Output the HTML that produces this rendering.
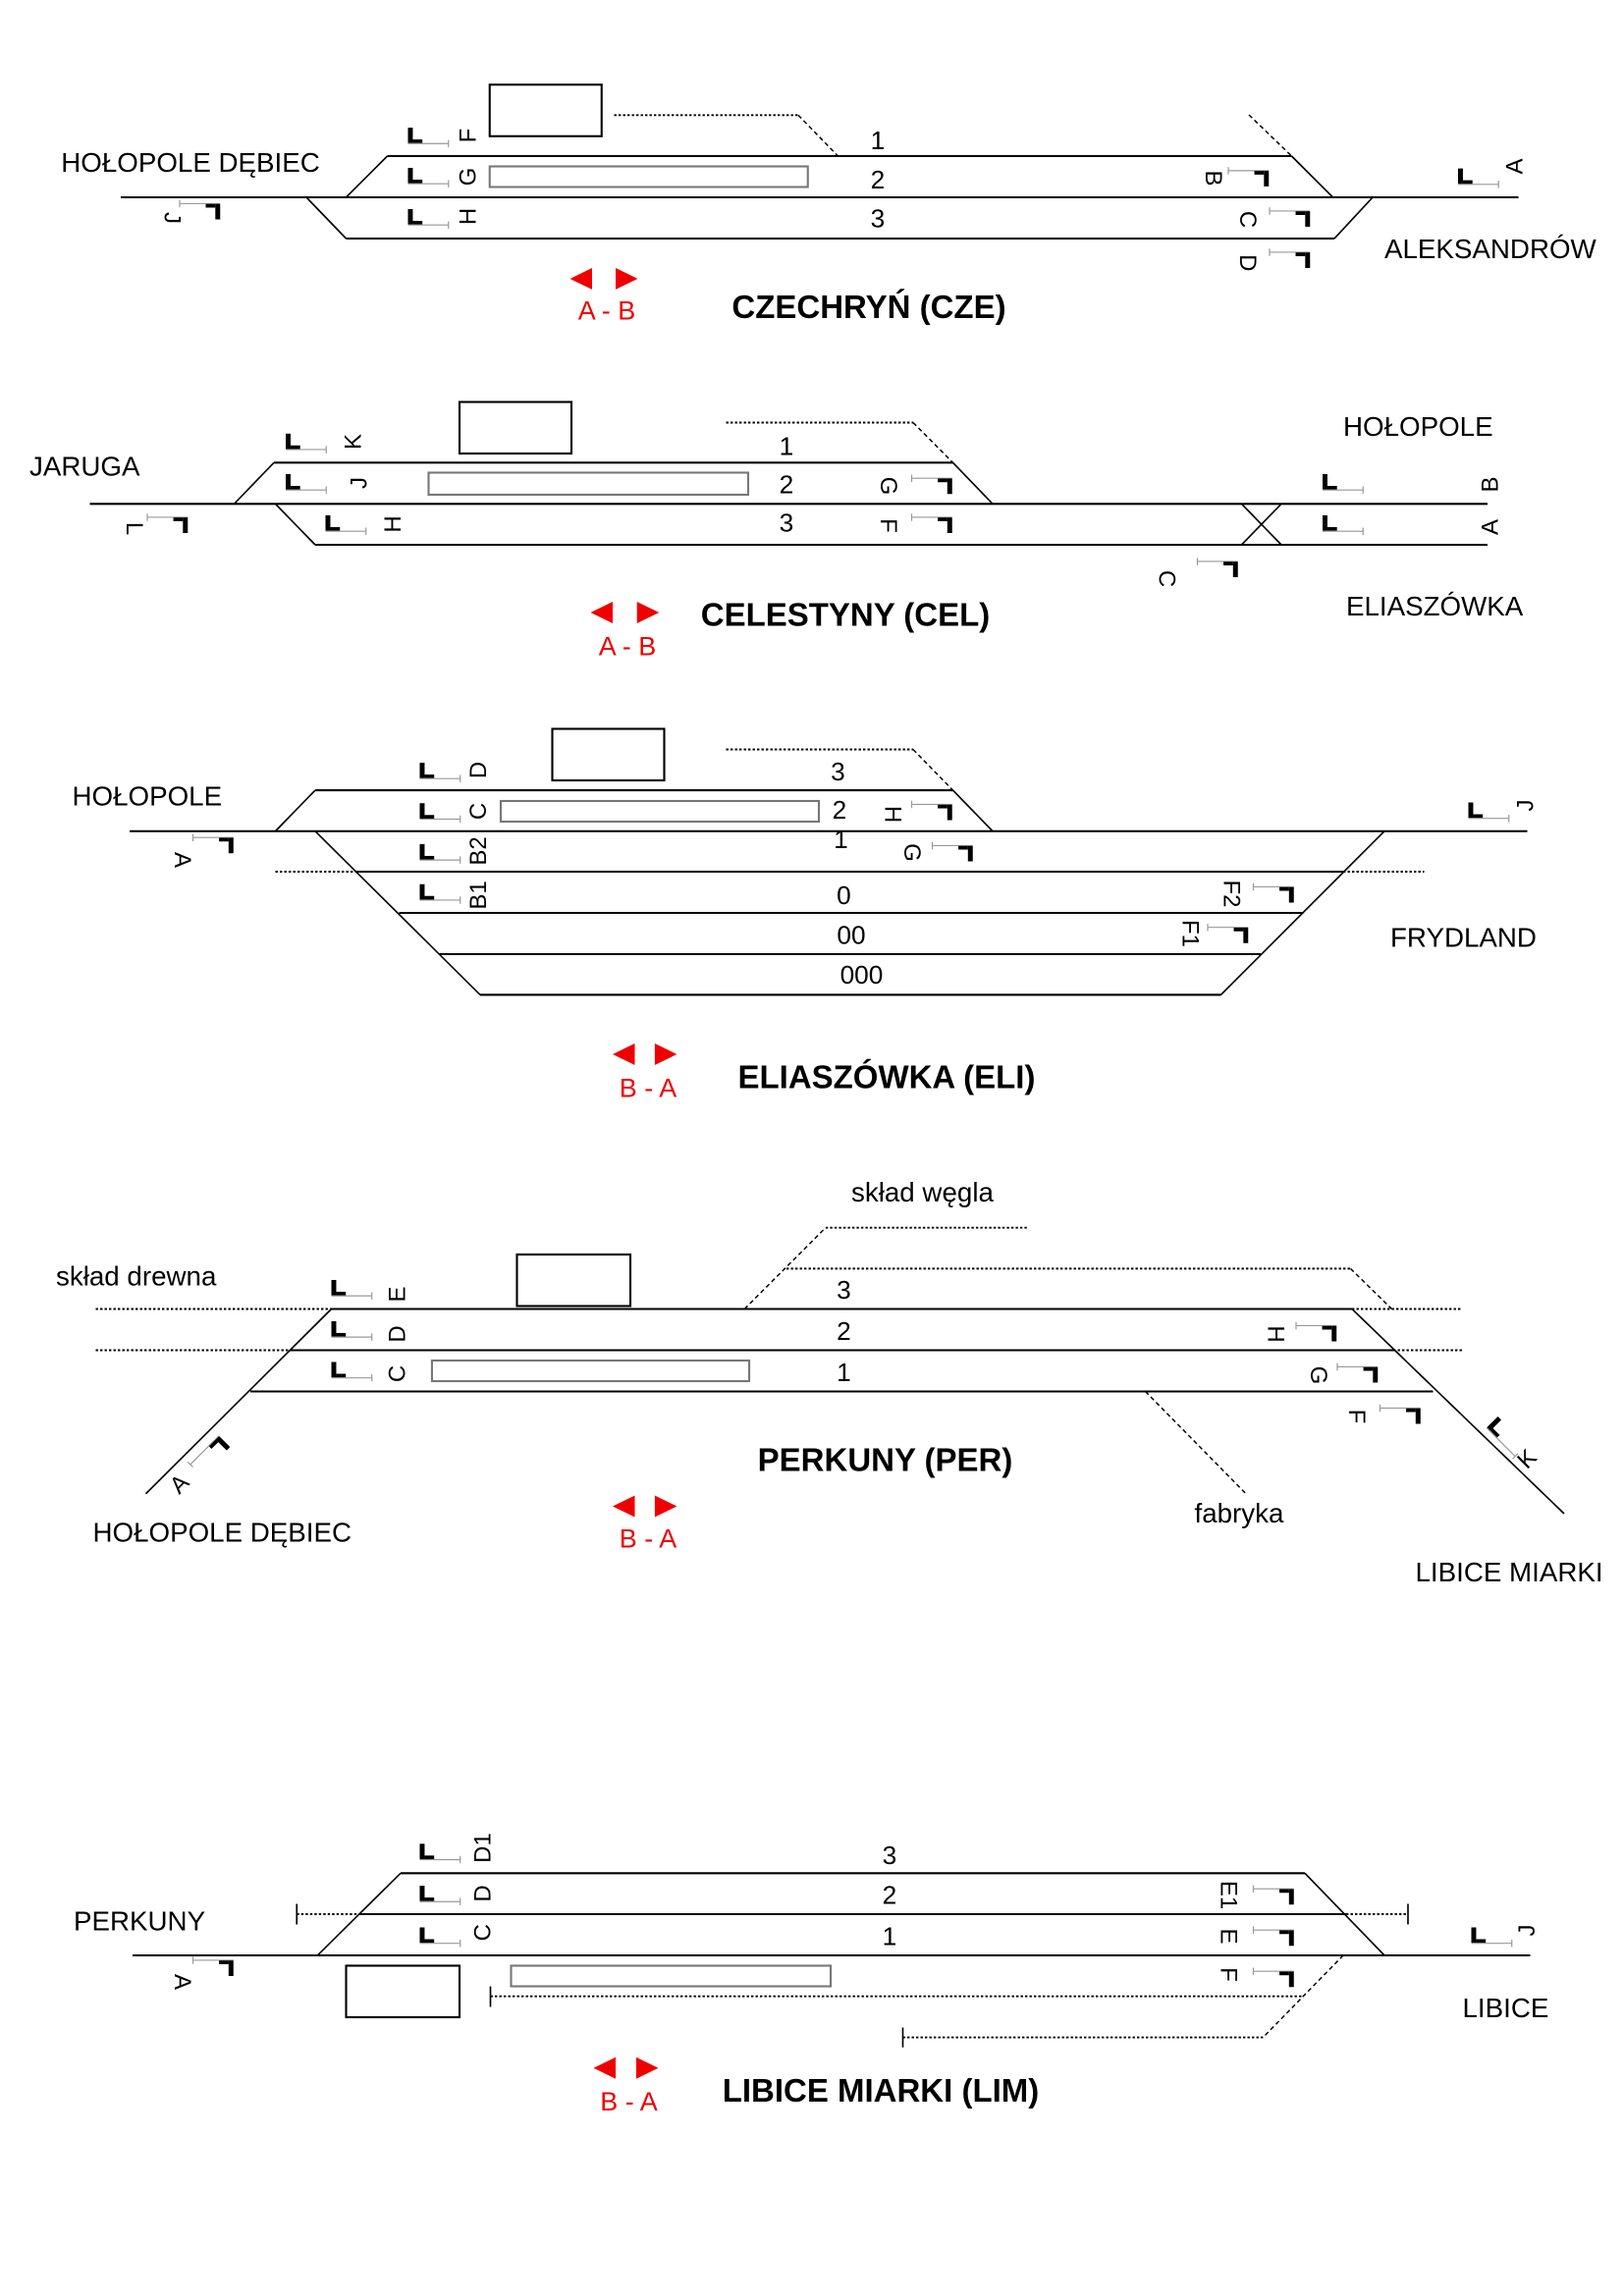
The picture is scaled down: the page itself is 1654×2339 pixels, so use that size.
<!DOCTYPE html>
<html><head><meta charset="utf-8"><style>
html,body{margin:0;padding:0;background:#fff}
svg{display:block}
text{font-family:"Liberation Sans",Arial,sans-serif;fill:#000}
.n{font-size:17.5px;text-anchor:middle}
.l{font-size:18.5px}
.s{font-size:16px;text-anchor:middle;dominant-baseline:central}
.t{font-size:22px;font-weight:bold;text-anchor:middle}
.r{font-size:18px;text-anchor:middle;fill:#e00}
.tr{stroke:#000;stroke-width:1.4;fill:none}
.dg{stroke:#000;stroke-width:1.1;fill:none}
.dt{stroke:#000;stroke-width:1.3;fill:none;stroke-dasharray:1.6 1.4}
.ds{stroke:#000;stroke-width:1;fill:none;stroke-dasharray:3 2.2}
.bd{stroke:#000;stroke-width:1.4;fill:none}
.pf{stroke:#777;stroke-width:1.4;fill:none}
</style></head><body>
<svg width="1654" height="2339" viewBox="0 0 1102.67 1559.33" xmlns="http://www.w3.org/2000/svg">
<defs>
<g id="L"><rect x="0" y="0" width="3.3" height="10.5" fill="#000"/><rect x="3.3" y="8" width="6.5" height="2.5" fill="#000"/><path d="M0 10.8H27.5M27.5 8.3V13.3" stroke="#999" stroke-width="0.8" fill="none"/></g>
<g id="R"><path d="M0 0.3H27.5M0 -2.2V2.8" stroke="#999" stroke-width="0.8" fill="none"/><rect x="17.7" y="0.5" width="6.5" height="2.5" fill="#000"/><rect x="24.2" y="0.5" width="3.3" height="10.5" fill="#000"/></g>
</defs>

<!-- ===== STATION 1: CZECHRYŃ ===== -->
<path class="tr" d="M82 134H1031"/>
<path class="tr" d="M263 106H877"/>
<path class="tr" d="M235 162H906"/>
<path class="dg" d="M235 134L263 106M877 106L905 134M208 134L235 162M906 162L932 134"/>
<rect class="bd" x="332.5" y="57.5" width="76" height="35"/>
<rect class="pf" x="332.5" y="113" width="216" height="14"/>
<path class="dt" d="M417 78.2H542"/>
<path class="ds" d="M542 78.2L569 106M848 78L877 106"/>
<text class="n" x="596" y="101.5">1</text>
<text class="n" x="596" y="128">2</text>
<text class="n" x="596" y="154.5">3</text>
<use href="#L" x="277" y="86.7"/><use href="#L" x="277" y="114"/><use href="#L" x="277" y="142"/>
<text class="s" transform="translate(318,92) rotate(-90)">F</text>
<text class="s" transform="translate(318,120) rotate(-90)">G</text>
<text class="s" transform="translate(318,147) rotate(-90)">H</text>
<use href="#R" x="834" y="115.6"/><use href="#R" x="862" y="143"/><use href="#R" x="862" y="171"/><use href="#R" x="122" y="138"/>
<text class="s" transform="translate(823.7,121) rotate(90)">B</text>
<text class="s" transform="translate(847,149) rotate(90)">C</text>
<text class="s" transform="translate(847,178.5) rotate(90)">D</text>
<text class="s" transform="translate(116.7,148) rotate(90)">J</text>
<use href="#L" x="990" y="114.4"/>
<text class="s" transform="translate(1028.7,113) rotate(-90)">A</text>
<text class="l" x="41.5" y="116.7">HOŁOPOLE DĘBIEC</text>
<text class="l" x="940" y="175.5">ALEKSANDRÓW</text>
<polygon fill="#e00" points="387,189.3 402,182 402,196.6"/><polygon fill="#e00" points="433,189.3 418,182 418,196.6"/>
<text class="r" x="412" y="217">A - B</text>
<text class="t" x="590" y="216">CZECHRYŃ (CZE)</text>

<!-- ===== STATION 2: CELESTYNY ===== -->
<path class="tr" d="M61 342.2H1010"/>
<path class="tr" d="M186 314.2H647"/>
<path class="tr" d="M214 370H1010"/>
<path class="dg" d="M159 342.2L186 314.2M647 314.2L674 342.2M187 342.2L214 370M843 370L870 342.2M843 342.2L870 370"/>
<rect class="bd" x="312" y="273" width="76" height="35"/>
<rect class="pf" x="291" y="321" width="217" height="15"/>
<path class="dt" d="M493 287H620"/>
<path class="ds" d="M620 287L647 314.2"/>
<text class="n" x="534" y="309">1</text>
<text class="n" x="534" y="335">2</text>
<text class="n" x="534" y="361">3</text>
<use href="#L" x="194" y="294.5"/><use href="#L" x="194" y="322"/><use href="#L" x="221" y="350"/>
<text class="s" transform="translate(240,300) rotate(-90)">K</text>
<text class="s" transform="translate(244,328) rotate(-90)">J</text>
<text class="s" transform="translate(267,356) rotate(-90)">H</text>
<use href="#R" x="100" y="351"/>
<text class="s" transform="translate(91,359) rotate(90)">L</text>
<use href="#R" x="619" y="324.5"/><use href="#R" x="619" y="351"/><use href="#R" x="813" y="381"/>
<text class="s" transform="translate(603,330) rotate(90)">G</text>
<text class="s" transform="translate(603,357) rotate(90)">F</text>
<text class="s" transform="translate(792,393) rotate(90)">C</text>
<use href="#L" x="898" y="322"/><use href="#L" x="898" y="350"/>
<text class="s" transform="translate(1012,329) rotate(-90)">B</text>
<text class="s" transform="translate(1012,358) rotate(-90)">A</text>
<text class="l" x="20" y="323">JARUGA</text>
<text class="l" x="912" y="296">HOŁOPOLE</text>
<text class="l" x="914" y="418">ELIASZÓWKA</text>
<polygon fill="#e00" points="401,416 416,408.7 416,423.3"/><polygon fill="#e00" points="447.5,416 432.5,408.7 432.5,423.3"/>
<text class="r" x="426" y="445">A - B</text>
<text class="t" x="574" y="425">CELESTYNY (CEL)</text>

<!-- ===== STATION 3: ELIASZÓWKA ===== -->
<path class="tr" d="M88 564.5H1037"/>
<path class="tr" d="M214 536.7H647"/>
<path class="tr" d="M242 592H912M271 620H885M298 648H856M326 675.6H829"/>
<path class="dg" d="M187 564.5L214 536.7M647 536.7L674 564.5M214 564.5L326 675.6M940 564.5L829 675.6"/>
<path class="dt" d="M187 592H242M912 592H967"/>
<rect class="bd" x="375" y="495" width="76" height="35"/>
<rect class="pf" x="340" y="544" width="216" height="14"/>
<path class="dt" d="M493 509H620"/>
<path class="ds" d="M620 509L647 536.7"/>
<text class="n" x="569" y="530">3</text>
<text class="n" x="570" y="556">2</text>
<text class="n" x="571" y="576">1</text>
<text class="n" x="573" y="614">0</text>
<text class="n" x="578" y="641">00</text>
<text class="n" x="585" y="668">000</text>
<use href="#L" x="285" y="518"/><use href="#L" x="285" y="545.5"/><use href="#L" x="285" y="573.3"/><use href="#L" x="285" y="600.5"/>
<text class="s" transform="translate(325,523) rotate(-90)">D</text>
<text class="s" transform="translate(325,551) rotate(-90)">C</text>
<text class="s" transform="translate(325,578) rotate(-90)">B2</text>
<text class="s" transform="translate(325,608) rotate(-90)">B1</text>
<use href="#R" x="619" y="546"/><use href="#R" x="633" y="574"/><use href="#R" x="851" y="602"/><use href="#R" x="820" y="629.5"/><use href="#R" x="131" y="568.5"/>
<text class="s" transform="translate(606,553) rotate(90)">H</text>
<text class="s" transform="translate(619,579) rotate(90)">G</text>
<text class="s" transform="translate(836,607) rotate(90)">F2</text>
<text class="s" transform="translate(808,634) rotate(90)">F1</text>
<text class="s" transform="translate(123.7,584) rotate(90)">A</text>
<use href="#L" x="997" y="545"/>
<text class="s" transform="translate(1036,547) rotate(-90)">J</text>
<text class="l" x="49" y="547">HOŁOPOLE</text>
<text class="l" x="944" y="643">FRYDLAND</text>
<polygon fill="#e00" points="416,716 431,708.7 431,723.3"/><polygon fill="#e00" points="459.6,716 444.6,708.7 444.6,723.3"/>
<text class="r" x="440" y="745">B - A</text>
<text class="t" x="602" y="739">ELIASZÓWKA (ELI)</text>

<!-- ===== STATION 4: PERKUNY ===== -->
<path class="tr" d="M225 889H918M198 917H946M170 945H973"/>
<path class="dg" d="M225 889L99 1014.5M918 889L1062 1028"/>
<path class="dt" d="M65 889H225M65 917H198M918 889H993M946 917H993"/>
<path class="dt" d="M534 861.6H917M560.6 833.8H698.5"/>
<path class="ds" d="M505.5 889L560.6 833.8M917 861.6L945 889M777.7 945L846 1014.5"/>
<rect class="bd" x="351" y="852" width="77" height="35"/>
<rect class="pf" x="293.3" y="924" width="215.4" height="14"/>
<text class="n" x="573" y="882">3</text>
<text class="n" x="573" y="910">2</text>
<text class="n" x="573" y="938">1</text>
<use href="#L" x="225" y="869.3"/><use href="#L" x="225" y="897.3"/><use href="#L" x="225" y="925"/>
<text class="s" transform="translate(270,879) rotate(-90)">E</text>
<text class="s" transform="translate(270,906) rotate(-90)">D</text>
<text class="s" transform="translate(270,933) rotate(-90)">C</text>
<use href="#R" x="880" y="900"/><use href="#R" x="908" y="928"/><use href="#R" x="937" y="956"/>
<text class="s" transform="translate(866,906) rotate(90)">H</text>
<text class="s" transform="translate(895,934) rotate(90)">G</text>
<text class="s" transform="translate(921,962) rotate(90)">F</text>
<use href="#R" transform="translate(129,994.4) rotate(-45)"/>
<text class="s" transform="translate(122,1008) rotate(-45)">A</text>
<use href="#L" transform="translate(1017,962) rotate(45)"/>
<text class="s" transform="translate(1037,991) rotate(-45)">K</text>
<text class="l" x="38" y="873">skład drewna</text>
<text class="l" x="578" y="816">skład węgla</text>
<text class="l" x="811" y="1034">fabryka</text>
<text class="l" x="63" y="1047">HOŁOPOLE DĘBIEC</text>
<text class="l" x="961" y="1074">LIBICE MIARKI</text>
<polygon fill="#e00" points="416,1023 431,1015.7 431,1030.3"/><polygon fill="#e00" points="459.6,1023 444.6,1015.7 444.6,1030.3"/>
<text class="r" x="440" y="1051">B - A</text>
<text class="t" x="601" y="999">PERKUNY (PER)</text>

<!-- ===== STATION 5: LIBICE MIARKI ===== -->
<path class="tr" d="M90 1328H1039"/>
<path class="tr" d="M272 1272.2H886"/>
<path class="tr" d="M244 1300H914"/>
<path class="dg" d="M215.6 1328L272 1272.2M886 1272.2L940 1328"/>
<path class="dt" d="M201.5 1300H244M914 1300H956M333 1355.8H885M613 1383.7H857.6"/>
<path class="dg" d="M201.5 1293V1307M956 1293V1307M333 1349V1363M613 1377V1390.5"/>
<path class="ds" d="M912 1328L857.6 1383.7"/>
<rect class="bd" x="235" y="1335" width="77" height="35"/>
<rect class="pf" x="347" y="1335" width="217" height="14"/>
<text class="n" x="604" y="1266">3</text>
<text class="n" x="604" y="1293">2</text>
<text class="n" x="604" y="1321">1</text>
<use href="#L" x="285" y="1252.2"/><use href="#L" x="285" y="1280.7"/><use href="#L" x="285" y="1309"/>
<text class="s" transform="translate(328,1255) rotate(-90)">D1</text>
<text class="s" transform="translate(328,1286) rotate(-90)">D</text>
<text class="s" transform="translate(328,1312.5) rotate(-90)">C</text>
<use href="#R" x="851" y="1282.5"/><use href="#R" x="851" y="1310.5"/><use href="#R" x="851" y="1338.5"/><use href="#R" x="131" y="1331"/>
<text class="s" transform="translate(834,1287) rotate(90)">E1</text>
<text class="s" transform="translate(834,1315) rotate(90)">E</text>
<text class="s" transform="translate(834,1341) rotate(90)">F</text>
<text class="s" transform="translate(123.7,1346) rotate(90)">A</text>
<use href="#L" x="999" y="1309"/>
<text class="s" transform="translate(1037,1311) rotate(-90)">J</text>
<text class="l" x="50" y="1311">PERKUNY</text>
<text class="l" x="993" y="1370">LIBICE</text>
<polygon fill="#e00" points="403,1404.5 418,1397.2 418,1411.8"/><polygon fill="#e00" points="447,1404.5 432,1397.2 432,1411.8"/>
<text class="r" x="427" y="1433.5">B - A</text>
<text class="t" x="598" y="1427.5">LIBICE MIARKI (LIM)</text>
</svg>
</body></html>
